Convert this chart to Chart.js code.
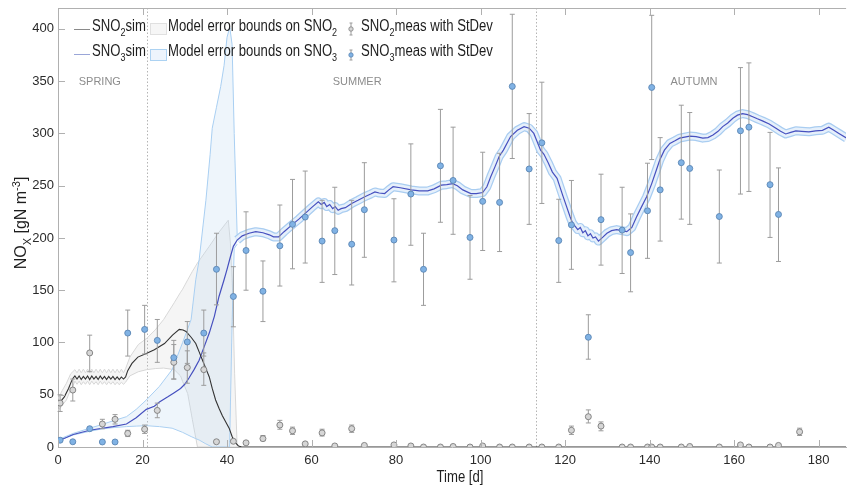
<!DOCTYPE html>
<html>
<head>
<meta charset="utf-8">
<script src="https://cdn.jsdelivr.net/npm/chart.js@4.4.0/dist/chart.umd.min.js"></script>
<style>
html, body { margin: 0; padding: 0; background: #fff; }
#wrap { position: relative; width: 851px; height: 487px; overflow: hidden; }
#c { position: absolute; left: 0; top: 0; }
.t { position: absolute; font-family: 'Liberation Sans', Arial, sans-serif; font-size: 16px; line-height: 16px; color: #1e1e1e; white-space: nowrap; transform: scaleX(0.82); transform-origin: left top; }
.t sub, .t sup { font-size: 11px; position: relative; vertical-align: baseline; line-height: 0; }
.t sub { top: 5px; }
.t sup { top: -6px; }
.ln { position: absolute; width: 16px; height: 0; border-top: 1.2px solid; }
.bx { position: absolute; width: 15px; height: 10px; border: 1px solid; }
.ic { position: absolute; }
</style>
</head>
<body>
<div id="wrap">
  <canvas id="c" width="851" height="487"></canvas>

  <div class="ln" style="left:74px;top:29px;border-color:#8a8a8a"></div>
  <div class="t" style="left:92px;top:18px">SNO<sub>2</sub>sim</div>
  <div class="ln" style="left:74px;top:54px;border-color:#9aa6d8"></div>
  <div class="t" style="left:92px;top:43px">SNO<sub>3</sub>sim</div>

  <div class="bx" style="left:150px;top:23px;background:#f6f6f6;border-color:#e0e0e0"></div>
  <div class="t" style="left:168px;top:18px">Model error bounds on SNO<sub>2</sub></div>
  <div class="bx" style="left:150px;top:49px;background:#edf4fc;border-color:#acd2f2"></div>
  <div class="t" style="left:168px;top:43px">Model error bounds on SNO<sub>3</sub></div>

  <svg class="ic" style="left:346px;top:21px" width="10" height="16">
    <path d="M5 2 V14 M3.5 2 H6.5 M3.5 14 H6.5" stroke="#9a9a9a" stroke-width="1" fill="none"/>
    <circle cx="5" cy="8" r="2.2" fill="#d6d6d6" stroke="#808080" stroke-width="0.8"/>
  </svg>
  <div class="t" style="left:361px;top:18px">SNO<sub>2</sub>meas with StDev</div>
  <svg class="ic" style="left:346px;top:47px" width="10" height="16">
    <path d="M5 3 V13 M3.5 3 H6.5 M3.5 13 H6.5" stroke="#9a9a9a" stroke-width="1" fill="none"/>
    <circle cx="5" cy="8" r="2.2" fill="#80b2e4" stroke="#5a86b4" stroke-width="0.8"/>
  </svg>
  <div class="t" style="left:361px;top:43px">SNO<sub>3</sub>meas with StDev</div>

  <div class="t" style="left:-48px;top:214px;width:140px;height:18px;text-align:center;transform-origin:center;transform:rotate(-90deg)">NO<sub>X</sub> [gN m<sup>-3</sup>]</div>
  <div class="t" style="left:360px;top:469px;width:200px;text-align:center;transform-origin:center">Time [d]</div>
</div>

<script>
// axis ticks
const xTicks = [0, 20, 40, 60, 80, 100, 120, 140, 160, 180];
const yTicks = [0, 50, 100, 150, 200, 250, 300, 350, 400];

// season separators and labels
const seasonBreaks = [21, 113];
const seasonNames = ['SPRING', 'SUMMER', 'AUTUMN'];
const seasonAt = [9.9, 70.8, 150.5];
const seasonY = 349;

// simulated SNO2
const sno2SimDays = [0, 0.5, 1.5, 2.5, 3.2, 3.6, 4, 4.5, 5, 5.5,
  6, 6.5, 7, 7.5, 8, 8.5, 9, 9.5, 10, 10.5,
  11, 11.5, 12, 12.5, 13, 13.5, 14, 14.5, 15, 15.5,
  16, 16.5, 17.5, 18.9, 20.9, 22.8, 25.2, 27.1, 28.7, 29.6,
  30.3, 31.5, 32.6, 33.4, 34.2, 35, 35.8, 36.5, 37.3, 38.1,
  38.9, 39.7, 40.5, 41.2, 41.8, 42.7, 43.5, 186.5];
const sno2Sim = [40, 43, 48, 56, 63, 66, 68, 65, 68, 64.5,
  67.5, 65, 68, 64.5, 68, 65, 67.5, 64.5, 68, 65,
  67.5, 64.5, 67.5, 65, 67.5, 64.5, 67, 64.5, 67, 65,
  67, 73, 80, 86, 89.5, 93, 99, 107, 112.5, 112,
  110.5, 105, 99, 91, 83, 75, 67, 56, 45, 37,
  30, 24, 18, 10, 5, 1, 0, 0];

// model error bounds on SNO2
const sno2BandDays = [0, 0.5, 1, 2, 3, 3.5, 4, 4.5, 5, 5.5,
  6, 6.5, 7, 7.5, 8, 8.5, 9, 9.5, 10, 10.5,
  11, 11.5, 12, 12.5, 13, 13.5, 14, 14.5, 15, 15.5,
  16, 17, 19, 21, 23, 25, 27.5, 29, 29.5, 30.7,
  31.8, 33, 35.8, 38, 40.3, 40.8, 41.3, 41.8, 42.4];
const sno2Upper = [46, 50, 54, 61, 70, 72, 74, 71, 74.5, 71,
  74.5, 71, 74.5, 71, 74.5, 71, 74.5, 71, 74.5, 71,
  74.5, 71, 74.5, 71, 74.5, 71, 74.5, 71, 74.5, 71,
  75, 86, 98, 104, 112, 122, 138, 148, 151, 160,
  168, 176, 192, 205, 217, 195, 150, 70, 0];
const sno2Lower = [35, 37, 40, 45, 55, 58, 63, 60, 63, 59.5,
  62.5, 60, 63, 59.5, 63, 60, 62.5, 59.5, 63, 60,
  62.5, 59.5, 62.5, 60, 62.5, 59.5, 62, 59.5, 62, 60,
  62, 68, 72, 74, 75, 75.5, 74, 68, 62.5, 51,
  26, 0, 0, 0, 0, 0, 0, 0, 0];

// simulated SNO3
const sno3SimDays = [0, 0.5, 3.6, 7.5, 13, 16.2, 18.5, 20.9, 22.8, 24,
  26, 27.5, 29, 30, 31, 32.2, 33.4, 34.6, 35.8, 37,
  38.1, 39.3, 40, 40.8, 41.5, 42.4, 43.6, 45.2, 46.8, 48.5,
  50, 51, 52.2, 53.5, 55.5, 57, 58.5, 60, 61.6, 62.3,
  63, 63.6, 64.3, 65, 65.6, 66.3, 67, 68, 69.5, 71,
  72.6, 74, 75, 76, 77.3, 78.3, 79.3, 81, 83.6, 85.5,
  87.5, 89, 90.7, 92, 93.4, 94.5, 95.8, 97.7, 99, 100.5,
  101.5, 102.4, 103.4, 104.4, 105.4, 107.1, 108.7, 110.3, 111.5, 112.6,
  114.2, 115, 116, 117, 118.1, 119.5, 121.2, 121.8, 122.4, 123,
  123.6, 124.2, 124.8, 125.4, 126, 126.6, 127.2, 127.9, 129, 129.9,
  131, 132.2, 133.4, 134.6, 135.8, 136.9, 138, 139.3, 140.5, 141.6,
  142.4, 143.5, 144.8, 146, 147.1, 148.3, 149.5, 151, 152.6, 153.8,
  155, 156.2, 157.3, 158.5, 159.7, 160.8, 162, 163.2, 164.4, 165.5,
  166.7, 168.3, 169.9, 171, 172.2, 173.4, 174.6, 176, 177.7, 179.3,
  180.9, 182.4, 183.6, 184.8, 186.6];
const sno3Sim = [6, 6.5, 12, 16, 19.5, 22, 28, 36, 39, 43,
  48, 52, 56, 60, 66, 74, 83, 96, 109, 125,
  144, 160, 170, 182, 192, 198, 202, 204.5, 206, 205,
  203, 201, 201, 206, 213, 218, 223.5, 229, 234.5, 232,
  234, 230, 232, 228, 230, 226.5, 228, 229, 233, 236,
  239.5, 242, 244, 243, 242.5, 246, 249, 248, 246, 245,
  245, 247, 250.5, 251, 252, 250, 246, 242.5, 242.5, 243.5,
  249, 258.5, 268, 278, 284, 297, 303, 306.5, 305, 300,
  284, 280, 272, 263, 257, 240, 220, 214, 211, 208,
  210, 205, 207, 202, 204, 200, 201, 197, 201, 204.5,
  207, 208, 207, 206, 210, 220, 229, 239.5, 252, 265,
  274.5, 284, 290.5, 293, 295.5, 296.5, 297.5, 297, 295.5, 296,
  298.5, 302, 306.5, 310, 314.5, 317.5, 319, 318, 316, 314,
  312, 309, 305, 302, 299.5, 301, 302.5, 302, 301.5, 302.5,
  303, 306, 303, 300, 295.5];

// model error bounds on SNO3 (wide part, spring)
const sno3BandDays = [0, 3.6, 7.5, 10, 13, 16.2, 18.5, 20.9, 24, 27,
  29.5, 31.5, 32.6, 33.4, 35, 36, 36.5, 37.5, 38.5, 39.3,
  40, 40.6, 40.7, 41.2, 41.7, 42.4];
const sno3Upper = [7, 13, 18, 21, 25, 29, 36, 45, 58, 74,
  100, 122, 160, 179, 236, 280, 305, 325, 345, 365,
  392, 401, 400, 385, 300, 203];
const sno3Lower = [6, 11.5, 15, 17, 18.5, 19.5, 20, 20.4, 19.5, 18,
  14, 10, 8, 6.7, 3, 1, 0, 0, 0, 0,
  0, 0, 0, 120, 190, 194];
const narrowBandFrom = 42.4;

// measured SNO2 with standard deviation
const sno2MeasDays = [0.5, 3.5, 7.5, 10.5, 13.5, 16.5, 20.5, 23.5, 27.4, 30.6,
  34.5, 37.5, 41.5, 44.5, 48.5, 52.5, 55.5, 58.5, 62.5, 65.5,
  69.5, 72.5, 79.5, 83.5, 86.5, 90.5, 93.5, 97.5, 100.5, 104.5,
  107.5, 111.5, 114.5, 118.5, 121.5, 125.5, 128.5, 133.5, 135.5, 139.5,
  140.5, 142.5, 147.5, 149.5, 156.5, 161.5, 163.5, 168.5, 170.5, 175.5];
const sno2Meas = [42, 54.5, 90, 22, 26.5, 13, 17, 35, 81, 76,
  74, 5, 5.5, 4, 8, 21, 15.5, 3, 13.5, 1,
  17.5, 1.5, 2, 1, 0, 0, 0.5, 0, 1, 0,
  0, 0, 0, 0, 16, 29, 20, 0, 0, 0,
  0, 0, 0, 0.5, 0, 2, 0, 0, 1.5, 14.5];
const sno2Lo = [34, 44, 72, 17.5, 22, 10, 13, 28, 65, 61,
  59, null, null, null, 6, 17, 12, null, 10.5, null,
  14, null, null, null, null, null, null, null, null, null,
  null, null, null, null, 12, 23, 15.5, null, null, null,
  null, null, null, null, null, null, null, null, null, 11];
const sno2Hi = [50, 65, 107, 26.5, 31, 16, 21, 42, 98, 92,
  90, null, null, null, 11, 25.5, 19, null, 17, null,
  21, null, null, null, null, null, null, null, null, null,
  null, null, null, null, 20, 35.5, 24, null, null, null,
  null, null, null, null, null, null, null, null, null, 18];

// measured SNO3 with standard deviation
const sno3MeasDays = [0.5, 3.5, 7.5, 10.5, 13.5, 16.5, 20.5, 23.5, 27.4, 30.6,
  34.5, 37.5, 41.5, 44.5, 48.5, 52.5, 55.5, 58.5, 62.5, 65.5,
  69.5, 72.5, 79.5, 83.5, 86.5, 90.5, 93.5, 97.5, 100.5, 104.5,
  107.5, 111.5, 114.5, 118.5, 121.5, 125.5, 128.5, 133.5, 135.5, 139.5,
  140.5, 142.5, 147.5, 149.5, 156.5, 161.5, 163.5, 168.5, 170.5];
const sno3Meas = [6.5, 5, 17.5, 4.8, 4.8, 109, 112.5, 102, 85.5, 100.5,
  109, 170, 144, 188, 149, 192.5, 213, 220, 197, 207,
  194, 227, 198, 242, 170, 269, 255, 200.5, 235, 234,
  345, 266, 291, 197.5, 212.5, 105, 217.5, 207.5, 186, 226,
  344, 246, 272, 266.5, 220.5, 302.5, 306, 251, 222.5];
const sno3Lo = [null, null, 16, null, null, 87, 89, 81, 65, 80,
  87, 136, 115, 150, 120, 154, 170.5, 176, 157.5, 165,
  155, 181.5, 158, 193, 135.5, 215, 203.5, 160.5, 188, 187,
  276, 213, 233, 157.5, 170, 84, 174, 166, 148.5, 180.5,
  275, 197, 218, 213, 176, 242, 244.5, 200.5, 177.5];
const sno3Hi = [null, null, 19, null, null, 131, 135.5, 122, 102, 120,
  131, 204.5, 172.5, 225, 178, 231.5, 256, 264, 236, 248.5,
  236, 272, 237.5, 290, 204.5, 323, 306, 240.5, 282, 281,
  414, 319, 349, 237, 255, 126.5, 261, 248.5, 223, 271.5,
  413, 296, 327, 320, 265, 363, 367.5, 301, 267];

const pts = (xs, ys) => xs.map((x, i) => ({ x: x, y: ys[i] }));
const sno3Pts = pts(sno3SimDays, sno3Sim);
const haloPts = sno3Pts.filter(p => p.x >= narrowBandFrom);

const tickFont = { family: "'Liberation Sans', Arial, sans-serif", size: 13 };

function drawErrBars(ctx, x, y, days, lo, hi) {
  days.forEach((d, i) => {
    if (lo[i] == null) return;
    const px = x.getPixelForValue(d);
    const y1 = y.getPixelForValue(lo[i]);
    const y2 = y.getPixelForValue(hi[i]);
    ctx.beginPath();
    ctx.moveTo(px, y1); ctx.lineTo(px, y2);
    ctx.moveTo(px - 2.5, y1); ctx.lineTo(px + 2.5, y1);
    ctx.moveTo(px - 2.5, y2); ctx.lineTo(px + 2.5, y2);
    ctx.stroke();
  });
}

const extras = {
  id: 'extras',
  beforeDatasetsDraw(chart) {
    const { ctx, chartArea: a, scales: { x, y } } = chart;
    ctx.save();
    ctx.strokeStyle = '#b4b4b4';
    ctx.lineWidth = 1;
    ctx.setLineDash([1.5, 2]);
    seasonBreaks.forEach(d => {
      const px = Math.round(x.getPixelForValue(d)) + 0.5;
      ctx.beginPath(); ctx.moveTo(px, a.top); ctx.lineTo(px, a.bottom); ctx.stroke();
    });
    ctx.setLineDash([]);
    ctx.fillStyle = '#8c8c8c';
    ctx.font = "11px 'Liberation Sans', Arial, sans-serif";
    ctx.textAlign = 'center';
    ctx.textBaseline = 'middle';
    seasonNames.forEach((s, i) => ctx.fillText(s, x.getPixelForValue(seasonAt[i]), y.getPixelForValue(seasonY)));
    ctx.restore();
  },
  beforeDatasetDraw(chart, args) {
    if (args.index !== 1) return;
    const { ctx, scales: { x, y } } = chart;
    ctx.save();
    ctx.strokeStyle = '#9c9c9c';
    ctx.lineWidth = 1;
    drawErrBars(ctx, x, y, sno2MeasDays, sno2Lo, sno2Hi);
    drawErrBars(ctx, x, y, sno3MeasDays, sno3Lo, sno3Hi);
    ctx.restore();
  },
  afterDraw(chart) {
    const { ctx, chartArea: a, scales: { x, y } } = chart;
    ctx.save();
    ctx.strokeStyle = '#b0b0b0';
    ctx.lineWidth = 1;
    ctx.beginPath();
    ctx.moveTo(a.left, a.top + 0.5); ctx.lineTo(a.right, a.top + 0.5);
    xTicks.forEach(v => {
      const px = Math.round(x.getPixelForValue(v)) + 0.5;
      ctx.moveTo(px, a.bottom); ctx.lineTo(px, a.bottom - 7);
      ctx.moveTo(px, a.top); ctx.lineTo(px, a.top + 7);
    });
    yTicks.forEach(v => {
      const py = Math.round(y.getPixelForValue(v)) + 0.5;
      ctx.moveTo(a.left, py); ctx.lineTo(a.left + 7, py);
    });
    ctx.stroke();
    ctx.restore();
  }
};

new Chart(document.getElementById('c'), {
  type: 'line',
  data: {
    datasets: [
      { label: 'SNO3 meas', data: pts(sno3MeasDays, sno3Meas), showLine: false, order: 0,
        pointRadius: 3, pointBackgroundColor: '#80b2e4', pointBorderColor: '#5a86b4', pointBorderWidth: 0.9 },
      { label: 'SNO2 meas', data: pts(sno2MeasDays, sno2Meas), showLine: false, order: 1,
        pointRadius: 3, pointBackgroundColor: '#d6d6d6', pointBorderColor: '#7c7c7c', pointBorderWidth: 0.9 },
      { label: 'SNO2 sim', data: pts(sno2SimDays, sno2Sim), order: 2,
        borderColor: '#333333', borderWidth: 1.1, pointRadius: 0, fill: false },
      { label: 'SNO3 sim', data: sno3Pts, order: 2,
        borderColor: '#4650bf', borderWidth: 1.2, pointRadius: 0, fill: false },
      { label: 'SNO3 band inner', data: haloPts, order: 3,
        borderColor: '#e6f0fb', borderWidth: 6.5, pointRadius: 0, fill: false, borderJoinStyle: 'round' },
      { label: 'SNO3 band outer', data: haloPts, order: 4,
        borderColor: '#a9cdf1', borderWidth: 9, pointRadius: 0, fill: false, borderJoinStyle: 'round' },
      { label: 'SNO3 upper', data: pts(sno3BandDays, sno3Upper), order: 5,
        borderColor: '#a9cff2', borderWidth: 1, pointRadius: 0,
        fill: { target: 7 }, backgroundColor: 'rgba(190,215,240,0.26)' },
      { label: 'SNO3 lower', data: pts(sno3BandDays, sno3Lower), order: 5,
        borderColor: '#a9cff2', borderWidth: 1, pointRadius: 0, fill: false },
      { label: 'SNO2 upper', data: pts(sno2BandDays, sno2Upper), order: 6,
        borderColor: '#d8d8d8', borderWidth: 1, pointRadius: 0,
        fill: { target: 9 }, backgroundColor: 'rgba(200,200,200,0.18)' },
      { label: 'SNO2 lower', data: pts(sno2BandDays, sno2Lower), order: 6,
        borderColor: '#d8d8d8', borderWidth: 1, pointRadius: 0, fill: false }
    ]
  },
  options: {
    responsive: false,
    animation: false,
    devicePixelRatio: 1,
    layout: { padding: { top: 8, right: 0, left: 0, bottom: 0 } },
    plugins: { legend: { display: false }, tooltip: { enabled: false } },
    scales: {
      x: {
        type: 'linear', min: 0, max: 186.5,
        afterBuildTicks: s => { s.ticks = xTicks.map(v => ({ value: v })); },
        afterFit: s => { s.height = 40; s.paddingLeft = 0; s.paddingRight = 0; },
        grid: { display: true, drawOnChartArea: false, drawTicks: false },
        border: { display: true, color: '#b0b0b0' },
        ticks: { font: tickFont, color: '#2a2a2a', padding: 6, maxRotation: 0 }
      },
      y: {
        min: 0, max: 420,
        afterBuildTicks: s => { s.ticks = yTicks.map(v => ({ value: v })); },
        afterFit: s => { s.width = 58; s.paddingTop = 0; s.paddingBottom = 0; },
        grid: { display: true, drawOnChartArea: false, drawTicks: false },
        border: { display: true, color: '#b0b0b0' },
        ticks: { font: tickFont, color: '#2a2a2a', padding: 4 }
      }
    }
  },
  plugins: [extras]
});
</script>
</body>
</html>
